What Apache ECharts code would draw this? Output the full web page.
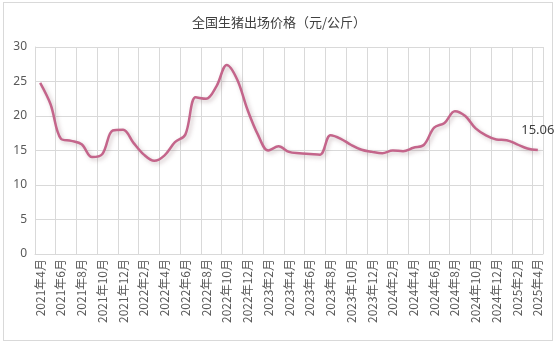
<!DOCTYPE html>
<html>
<head>
<meta charset="utf-8">
<script src="https://cdn.jsdelivr.net/npm/echarts@6/dist/echarts.min.js"></script>
<style>
html,body{margin:0;padding:0;background:#fff;}
#frame{position:absolute;left:3px;top:2px;width:550px;height:339px;border:1px solid #d9d9d9;box-sizing:border-box;}
#chart{position:absolute;left:0;top:0;width:558px;height:345px;}
</style>
</head>
<body>
<div id="frame"></div>
<div id="chart"></div>
<script>
var titleText = '全国生猪出场价格（元/公斤）';
var categories = [
 '2021年4月','2021年5月','2021年6月','2021年7月','2021年8月','2021年9月','2021年10月','2021年11月','2021年12月',
 '2022年1月','2022年2月','2022年3月','2022年4月','2022年5月','2022年6月','2022年7月','2022年8月','2022年9月','2022年10月','2022年11月','2022年12月',
 '2023年1月','2023年2月','2023年3月','2023年4月','2023年5月','2023年6月','2023年7月','2023年8月','2023年9月','2023年10月','2023年11月','2023年12月',
 '2024年1月','2024年2月','2024年3月','2024年4月','2024年5月','2024年6月','2024年7月','2024年8月','2024年9月','2024年10月','2024年11月','2024年12月',
 '2025年1月','2025年2月','2025年3月','2025年4月'
];
var prices = [
 24.8, 21.7, 16.7, 16.4, 15.9, 14.05, 14.5, 17.9, 18.0,
 16.1, 14.4, 13.5, 14.3, 16.2, 17.3, 22.7, 22.5, 24.3, 27.4, 25.3, 20.9,
 17.3, 15.0, 15.6, 14.8, 14.6, 14.5, 14.4, 17.2, 16.7, 15.8, 15.1, 14.8,
 14.6, 15.0, 14.9, 15.4, 15.8, 18.3, 19.0, 20.7, 20.0, 18.2, 17.2, 16.6,
 16.5, 15.9, 15.3, 15.06
];
var yTicks = [0, 5, 10, 15, 20, 25, 30];

var chart = echarts.init(document.getElementById('chart'));
var lastIdx = prices.length - 1;
chart.setOption({
  animation: false,
  title: {
    text: titleText, left: 'center', top: 11,
    textStyle: {fontSize: 13, fontWeight: 'normal', color: '#404040', fontFamily: '"Noto Sans CJK SC", sans-serif'}
  },
  grid: {left: 35, right: 15, top: 47, bottom: 91},
  xAxis: {
    type: 'category', data: categories, boundaryGap: true,
    axisLine: {show: true, lineStyle: {color: '#d9d9d9'}},
    axisTick: {show: false},
    splitLine: {show: true, interval: 1, lineStyle: {color: '#d9d9d9', width: 1}},
    axisLabel: {
      interval: 1, rotate: 90, margin: 5, color: '#595959', fontSize: 12,
      fontFamily: '"Noto Sans CJK SC", sans-serif'
    }
  },
  yAxis: {
    type: 'value', min: yTicks[0], max: yTicks[yTicks.length - 1], interval: 5,
    axisLine: {show: true, lineStyle: {color: '#d9d9d9'}},
    axisTick: {show: false},
    splitLine: {lineStyle: {color: '#d9d9d9'}},
    axisLabel: {color: '#595959', fontSize: 12, margin: 8, fontFamily: '"Noto Sans", sans-serif'}
  },
  series: [{
    type: 'line', data: prices.map(function(v, i){
      if (i === lastIdx) {
        return {value: v, label: {show: true, position: 'top', distance: 13, color: '#404040', fontSize: 13,
          fontFamily: '"Noto Sans", sans-serif', formatter: function(p){ return p.value.toFixed(2); }}};
      }
      return v;
    }),
    smooth: 0.35, symbol: 'circle', symbolSize: 0.01, showSymbol: true, showAllSymbol: true,
    label: {show: false},
    lineStyle: {color: '#c4658b', width: 2.5, shadowColor: 'rgba(120,80,90,0.35)', shadowBlur: 4, shadowOffsetX: 2, shadowOffsetY: 2},
    itemStyle: {color: '#c4658b'}
  }]
});
</script>
</body>
</html>
